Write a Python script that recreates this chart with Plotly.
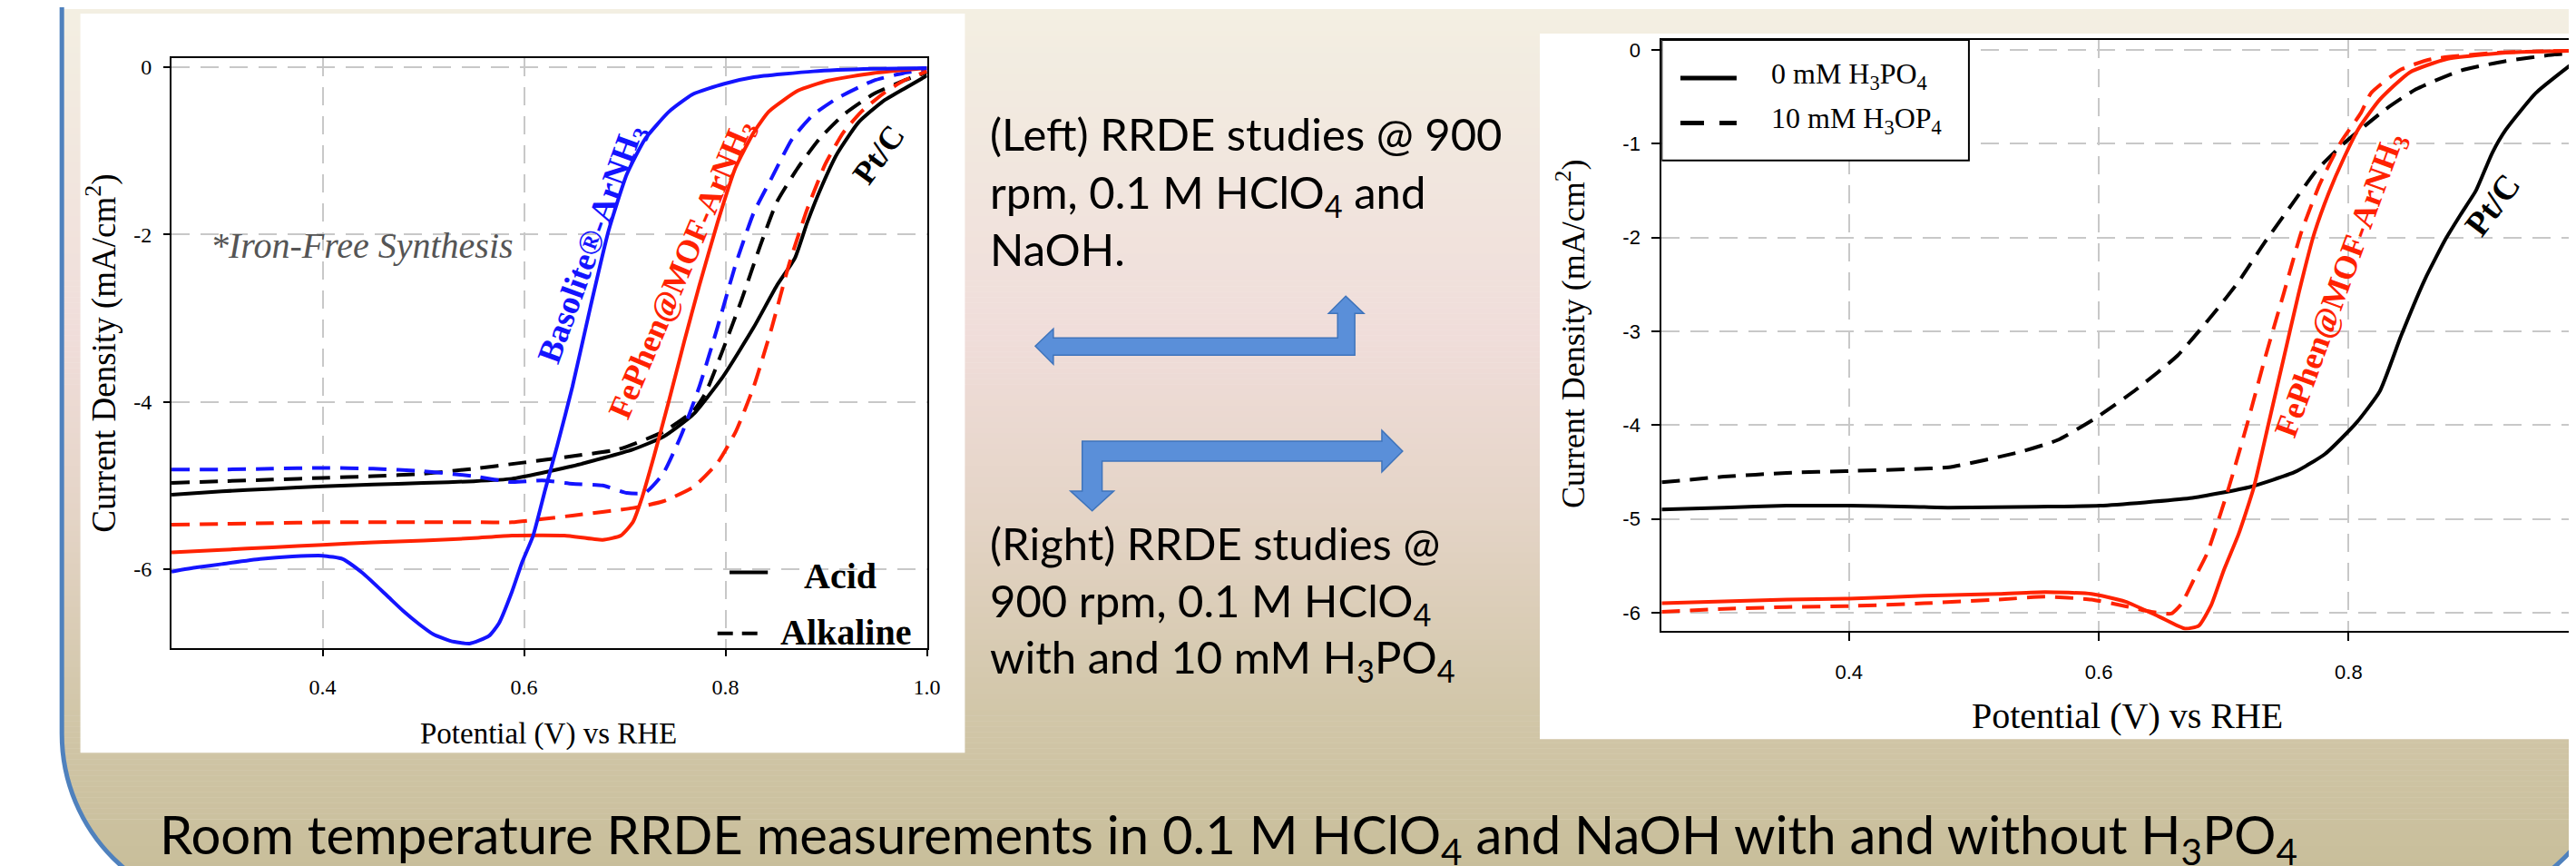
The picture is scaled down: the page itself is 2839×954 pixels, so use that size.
import plotly.graph_objects as go

W, H = 2839, 954

# ---------------- data: left panel (acid vs alkaline) ----------------
L_blue_acid_x = [0.25, 0.275, 0.30, 0.338, 0.37, 0.40, 0.42, 0.44, 0.465, 0.48, 0.496, 0.51, 0.527, 0.546,
                 0.565, 0.575, 0.588, 0.598, 0.609, 0.621, 0.633, 0.648, 0.666, 0.684, 0.702, 0.720, 0.744,
                 0.768, 0.798, 0.828, 0.887, 0.947, 1.0]
L_blue_acid_y = [-6.03, -5.98, -5.94, -5.88, -5.85, -5.84, -5.88, -6.05, -6.33, -6.50, -6.66, -6.78, -6.86, -6.89,
                 -6.80, -6.65, -6.27, -5.92, -5.60, -5.05, -4.52, -3.82, -2.86, -1.95, -1.28, -0.86, -0.53,
                 -0.32, -0.20, -0.12, -0.05, -0.02, -0.01]

L_blue_alk_x = [0.25, 0.30, 0.35, 0.40, 0.45, 0.50, 0.55, 0.588, 0.618, 0.648, 0.678, 0.702, 0.720, 0.738, 0.756,
                0.774, 0.792, 0.810, 0.828, 0.846, 0.866, 0.887, 0.911, 0.947, 0.977, 1.0]
L_blue_alk_y = [-4.81, -4.81, -4.80, -4.79, -4.80, -4.83, -4.89, -4.96, -4.94, -4.98, -5.00, -5.09, -5.09, -4.86,
                -4.40, -3.82, -3.11, -2.36, -1.74, -1.32, -0.86, -0.57, -0.37, -0.16, -0.07, -0.03]

L_red_acid_x = [0.25, 0.30, 0.35, 0.40, 0.45, 0.50, 0.55, 0.588, 0.64, 0.678, 0.696, 0.708, 0.717, 0.729, 0.744,
                0.759, 0.774, 0.792, 0.810, 0.828, 0.843, 0.872, 0.902, 0.947, 1.0]
L_red_acid_y = [-5.80, -5.77, -5.74, -5.71, -5.68, -5.66, -5.63, -5.60, -5.60, -5.65, -5.60, -5.44, -5.15, -4.65,
                -3.98, -3.28, -2.61, -1.86, -1.20, -0.78, -0.53, -0.28, -0.16, -0.07, -0.01]

L_red_alk_x = [0.25, 0.30, 0.35, 0.40, 0.45, 0.50, 0.55, 0.588, 0.648, 0.708, 0.738, 0.768, 0.792, 0.810, 0.828,
               0.846, 0.863, 0.881, 0.899, 0.917, 0.935, 0.956, 0.977, 1.0]
L_red_alk_y = [-5.47, -5.46, -5.45, -5.44, -5.44, -5.44, -5.44, -5.44, -5.36, -5.27, -5.19, -5.02, -4.73, -4.36,
               -3.82, -3.11, -2.36, -1.70, -1.16, -0.78, -0.53, -0.32, -0.16, -0.05]

L_blk_acid_x = [0.25, 0.30, 0.35, 0.40, 0.45, 0.50, 0.55, 0.588, 0.648, 0.708, 0.738, 0.768, 0.798, 0.828, 0.851,
                0.869, 0.881, 0.896, 0.911, 0.932, 0.956, 0.977, 1.0]
L_blk_acid_y = [-5.11, -5.07, -5.04, -5.01, -4.99, -4.97, -4.95, -4.92, -4.77, -4.57, -4.42, -4.15, -3.69, -3.11,
                -2.61, -2.28, -1.86, -1.41, -1.03, -0.66, -0.41, -0.26, -0.10]

L_blk_alk_x = [0.25, 0.30, 0.35, 0.40, 0.45, 0.50, 0.55, 0.597, 0.648, 0.693, 0.738, 0.768, 0.780, 0.798, 0.816,
               0.834, 0.851, 0.872, 0.893, 0.917, 0.947, 0.977, 1.0]
L_blk_alk_y = [-4.97, -4.95, -4.93, -4.91, -4.89, -4.86, -4.80, -4.73, -4.65, -4.57, -4.36, -4.11, -3.90, -3.36,
               -2.78, -2.15, -1.61, -1.20, -0.86, -0.57, -0.32, -0.16, -0.06]

# ---------------- data: right panel (0 vs 10 mM H3PO4) ----------------
R_blk_0_x = [0.25, 0.30, 0.35, 0.40, 0.45, 0.48, 0.55, 0.601, 0.673, 0.721, 0.757, 0.781, 0.806, 0.825, 0.842,
             0.861, 0.878, 0.890, 0.902, 0.915, 0.926, 0.950, 0.977]
R_blk_0_y = [-4.90, -4.88, -4.86, -4.86, -4.87, -4.88, -4.87, -4.86, -4.78, -4.66, -4.50, -4.31, -3.98, -3.64, -3.05,
             -2.45, -2.01, -1.75, -1.50, -1.10, -0.85, -0.46, -0.17]

R_blk_10_x = [0.25, 0.30, 0.35, 0.40, 0.45, 0.48, 0.536, 0.567, 0.597, 0.630, 0.663, 0.692, 0.712, 0.733, 0.755,
              0.774, 0.796, 0.830, 0.854, 0.890, 0.926, 0.965, 0.977]
R_blk_10_y = [-4.61, -4.55, -4.51, -4.49, -4.47, -4.45, -4.29, -4.16, -3.93, -3.62, -3.26, -2.81, -2.47, -2.05, -1.64,
              -1.29, -1.00, -0.63, -0.42, -0.22, -0.12, -0.05, -0.04]

R_red_0_x = [0.25, 0.30, 0.35, 0.40, 0.46, 0.52, 0.557, 0.594, 0.621, 0.648, 0.669, 0.680, 0.690, 0.700, 0.712,
             0.724, 0.736, 0.748, 0.760, 0.772, 0.784, 0.796, 0.808, 0.825, 0.849, 0.878, 0.926, 0.977]
R_red_0_y = [-5.90, -5.88, -5.86, -5.85, -5.82, -5.80, -5.78, -5.80, -5.88, -6.04, -6.17, -6.14, -5.92, -5.55, -5.16,
             -4.67, -3.98, -3.29, -2.60, -1.98, -1.53, -1.16, -0.84, -0.53, -0.24, -0.10, -0.03, -0.01]

R_red_10_x = [0.25, 0.30, 0.35, 0.40, 0.46, 0.52, 0.557, 0.594, 0.621, 0.642, 0.658, 0.666, 0.676, 0.687, 0.704,
              0.719, 0.733, 0.748, 0.762, 0.777, 0.794, 0.810, 0.818, 0.842, 0.866, 0.92, 0.977]
R_red_10_y = [-5.99, -5.96, -5.94, -5.93, -5.90, -5.86, -5.83, -5.86, -5.93, -5.99, -6.01, -5.91, -5.65, -5.36, -4.67,
              -3.98, -3.29, -2.60, -1.95, -1.43, -0.98, -0.67, -0.46, -0.21, -0.10, -0.03, -0.01]

# tick labels
L_xticks = [0.4, 0.6, 0.8, 1.0]
L_xticklabels = ["0.4", "0.6", "0.8", "1.0"]
L_yticks = [0, -2, -4, -6]
L_yticklabels = ["0", "-2", "-4", "-6"]
R_xticks = [0.4, 0.6, 0.8]
R_xticklabels = ["0.4", "0.6", "0.8"]
R_yticks = [0, -1, -2, -3, -4, -5, -6]
R_yticklabels = ["0", "-1", "-2", "-3", "-4", "-5", "-6"]

# ---------------- styling ----------------
BLUE = "#1414ff"
RED = "#ff2200"
BLACK = "#000000"
SERIF = "Liberation Serif, Times New Roman, serif"
SANS = "Lato, Open Sans, sans-serif"
ARIAL = "Liberation Sans, Arial, sans-serif"
LW = 4
DASH = "20px,11px"


def px(x):
    return x / W


def py(y):
    return 1 - y / H


fig = go.Figure()


def add_line(xs, ys, color, dashed, xa, ya):
    fig.add_trace(go.Scatter(
        x=xs, y=ys, mode="lines", xaxis=xa, yaxis=ya, showlegend=False, hoverinfo="skip",
        line=dict(color=color, width=LW, dash=DASH if dashed else "solid", shape="spline", smoothing=0.5)))


# left panel
add_line(L_blk_alk_x, L_blk_alk_y, BLACK, True, "x", "y")
add_line(L_blk_acid_x, L_blk_acid_y, BLACK, False, "x", "y")
add_line(L_blue_alk_x, L_blue_alk_y, BLUE, True, "x", "y")
add_line(L_red_alk_x, L_red_alk_y, RED, True, "x", "y")
add_line(L_red_acid_x, L_red_acid_y, RED, False, "x", "y")
add_line(L_blue_acid_x, L_blue_acid_y, BLUE, False, "x", "y")
# right panel
add_line(R_blk_10_x, R_blk_10_y, BLACK, True, "x2", "y2")
add_line(R_blk_0_x, R_blk_0_y, BLACK, False, "x2", "y2")
add_line(R_red_10_x, R_red_10_y, RED, True, "x2", "y2")
add_line(R_red_0_x, R_red_0_y, RED, False, "x2", "y2")

# ---------------- background shapes ----------------
shapes = []
stops = [(0, (243, 239, 226)), (180, (241, 230, 222)), (360, (240, 221, 218)),
         (560, (228, 212, 198)), (780, (209, 198, 168)), (954, (200, 190, 154))]


def grad(y):
    for (y0, c0), (y1, c1) in zip(stops[:-1], stops[1:]):
        if y0 <= y <= y1:
            t = (y - y0) / (y1 - y0)
            return "rgb(%d,%d,%d)" % tuple(round(a + (b - a) * t) for a, b in zip(c0, c1))
    return "rgb(%d,%d,%d)" % stops[-1][1]


step = 6
for yb in range(0, H, step):
    shapes.append(dict(type="rect", xref="paper", yref="paper", layer="below",
                       x0=px(60), x1=1.0, y0=py(yb + step + 0.5), y1=py(yb),
                       fillcolor=grad(yb + step / 2), line=dict(width=0)))


def path(points, close=True):
    s = "M %f,%f " % (px(points[0][0]), py(points[0][1]))
    for p in points[1:]:
        s += "L %f,%f " % (px(p[0]), py(p[1]))
    return s + ("Z" if close else "")


K = 0.5523 * 194.5
# corner cut-outs (white outside rounded frame)
shapes.append(dict(type="path", xref="paper", yref="paper", layer="below", fillcolor="white", line=dict(width=0),
                   path="M %f,%f L %f,%f C %f,%f %f,%f %f,%f L %f,%f Z" % (
                       px(0), py(800), px(60.5), py(800), px(60.5), py(800 + K), px(255 - K), py(994.5),
                       px(255), py(994.5), px(0), py(994.5))))
shapes.append(dict(type="path", xref="paper", yref="paper", layer="below", fillcolor="white", line=dict(width=0),
                   path="M %f,%f C %f,%f %f,%f %f,%f L %f,%f Z" % (
                       px(2889.5), py(800), px(2889.5), py(800 + K), px(2695 + K), py(994.5),
                       px(2695), py(994.5), px(2889.5), py(994.5))))
# blue frame
shapes.append(dict(type="path", xref="paper", yref="paper", layer="below", line=dict(color="#4f81bd", width=5),
                   path="M %f,%f L %f,%f C %f,%f %f,%f %f,%f" % (
                       px(60.5), py(-5), px(60.5), py(800), px(60.5), py(800 + K), px(255 - K), py(994.5),
                       px(255), py(994.5))))
shapes.append(dict(type="path", xref="paper", yref="paper", layer="below", line=dict(color="#4f81bd", width=5),
                   path="M %f,%f C %f,%f %f,%f %f,%f" % (
                       px(2889.5), py(800), px(2889.5), py(800 + K), px(2695 + K), py(994.5),
                       px(2695), py(994.5))))

# white chart panels
shapes.append(dict(type="rect", xref="paper", yref="paper", layer="below", x0=px(81), x1=px(1061),
                   y0=py(821), y1=py(5), fillcolor="white", line=dict(width=0)))
shapes.append(dict(type="rect", xref="paper", yref="paper", layer="below", x0=px(1698), x1=1.0,
                   y0=py(806), y1=py(27), fillcolor="white", line=dict(width=0)))

# arrows
ARROW_FILL = "#5a8fd9"
ARROW_LINE = "#3f74bb"
arrow1 = [(1139, 372), (1159, 353), (1159, 363), (1474, 363), (1474, 336), (1464, 336), (1483, 317),
          (1503, 336), (1493, 336), (1493, 382), (1159, 382), (1159, 392)]
arrow2 = [(1546, 488), (1523, 465), (1523, 477), (1191, 477), (1191, 532), (1178, 532), (1202, 554),
          (1226, 532), (1213, 532), (1213, 499), (1523, 499), (1523, 511)]
for a in (arrow1, arrow2):
    shapes.append(dict(type="path", xref="paper", yref="paper", layer="above", path=path(a),
                       fillcolor=ARROW_FILL, line=dict(color=ARROW_LINE, width=1.5)))

# right legend box and samples
shapes.append(dict(type="rect", xref="x2", yref="y2", layer="above", x0=0.25, x1=0.496, y0=-1.18, y1=0.106,
                   fillcolor="white", line=dict(color="black", width=2)))
shapes.append(dict(type="line", xref="x2", yref="y2", layer="above", x0=0.265, x1=0.310, y0=-0.30, y1=-0.30,
                   line=dict(color="black", width=5)))
shapes.append(dict(type="line", xref="x2", yref="y2", layer="above", x0=0.265, x1=0.310, y0=-0.78, y1=-0.78,
                   line=dict(color="black", width=5, dash="26px,17px")))
# left legend samples
shapes.append(dict(type="line", xref="x", yref="y", layer="above", x0=0.804, x1=0.842, y0=-6.04, y1=-6.04,
                   line=dict(color="black", width=4)))
shapes.append(dict(type="line", xref="x", yref="y", layer="above", x0=0.792, x1=0.834, y0=-6.77, y1=-6.77,
                   line=dict(color="black", width=4, dash="17px,10px")))

# ---------------- annotations ----------------
ann = []


def note(text, x, y, size, family, color="black", xanchor="center", yanchor="middle", angle=0, xref="paper",
         yref="paper"):
    ann.append(dict(text=text, x=x, y=y, xref=xref, yref=yref, xanchor=xanchor, yanchor=yanchor, showarrow=False,
                    textangle=angle, font=dict(size=size, family=family, color=color)))


# left chart texts
note("Current Density (mA/cm<sup>2</sup>)", px(105), py(380), 37, SERIF, angle=-90)
note("Potential (V) vs RHE", px(600), py(800), 33, SERIF)
note("<i>*Iron-Free Synthesis</i>", 0.287, -2.13, 40, SERIF, color="#555555", xanchor="left", xref="x", yref="y")
note("<b>Basolite®-ArNH<sub>3</sub></b>", 0.668, -2.12, 37, SERIF, color=BLUE, angle=-70, xref="x", yref="y")
note("<b>FePhen@MOF-ArNH<sub>3</sub></b>", 0.757, -2.42, 36, SERIF, color=RED, angle=-67, xref="x", yref="y")
note("<b>Pt/C</b>", 0.952, -1.04, 36, SERIF, color=BLACK, angle=-54, xref="x", yref="y")
note("<b>Acid</b>", 0.876, -6.08, 40, SERIF, xanchor="left", xref="x", yref="y")
note("<b>Alkaline</b>", 0.853, -6.76, 40, SERIF, xanchor="left", xref="x", yref="y")

# right chart texts
note("Current Density (mA/cm<sup>2</sup>)", px(1732), py(358), 36, SERIF, angle=-90)
note("Potential (V) vs RHE", px(2349), py(780), 40, SERIF)
note("<b>FePhen@MOF-ArNH<sub>3</sub></b>", 0.794, -2.51, 36, SERIF, color=RED, angle=-70, xref="x2", yref="y2")
note("<b>Pt/C</b>", 0.9155, -1.65, 38, SERIF, color=BLACK, angle=-53, xref="x2", yref="y2")
note("0 mM H<sub>3</sub>PO<sub>4</sub>", 0.336, -0.28, 32, SERIF, xanchor="left", xref="x2", yref="y2")
note("10 mM H<sub>3</sub>OP<sub>4</sub>", 0.336, -0.75, 32, SERIF, xanchor="left", xref="x2", yref="y2")

# middle description text
MID = 49
ascent = 0.987 * MID
mid_lines = [("(Left) RRDE studies @ 900", 155), ("rpm, 0.1 M HClO<sub>4</sub> and", 219), ("NaOH.", 282),
             ("(Right) RRDE studies @", 607), ("900 rpm, 0.1 M HClO<sub>4</sub>", 670),
             ("with and 10 mM H<sub>3</sub>PO<sub>4</sub>", 732)]
for txt, base in mid_lines:
    note(txt, px(1087), py(base - ascent), MID, SANS, xanchor="left", yanchor="top")

CAP = 58
note("Room temperature RRDE measurements in 0.1 M HClO<sub>4</sub> and NaOH with and without "
     "H<sub>3</sub>PO<sub>4</sub>", px(167), py(931 - 0.987 * CAP), CAP, SANS, xanchor="left", yanchor="top")

# ---------------- axes ----------------
GRID = dict(showgrid=True, gridcolor="#c8c8c8", gridwidth=1.5, griddash="20px,12px", zeroline=False,
            showline=True, linecolor="black", linewidth=2, ticks="outside", tickcolor="black", tickwidth=1.5)

fig.update_layout(
    width=W, height=H, autosize=False, margin=dict(l=0, r=0, t=0, b=0),
    paper_bgcolor="white", plot_bgcolor="rgba(0,0,0,0)", showlegend=False,
    xaxis=dict(domain=[px(182), px(1019)], range=[0.25, 1.0], tickvals=L_xticks, ticktext=L_xticklabels,
               mirror=True, ticklen=7, ticklabelstandoff=14, tickfont=dict(family=SERIF, size=24, color="black"),
               anchor="y", **GRID),
    yaxis=dict(domain=[py(705), py(54)], range=[-6.94, 0.11], tickvals=L_yticks, ticktext=L_yticklabels,
               mirror=True, ticklen=7, ticklabelstandoff=8, tickfont=dict(family=SERIF, size=24, color="black"),
               anchor="x", **GRID),
    xaxis2=dict(domain=[px(1833), 1.0], range=[0.25, 0.977], tickvals=R_xticks, ticktext=R_xticklabels,
                mirror=True, ticklen=9, ticklabelstandoff=16, tickfont=dict(family=ARIAL, size=22, color="black"),
                anchor="y2", **GRID),
    yaxis2=dict(domain=[py(686), py(34)], range=[-6.19, 0.106], tickvals=R_yticks, ticktext=R_yticklabels,
                mirror=False, ticklen=9, ticklabelstandoff=8, tickfont=dict(family=ARIAL, size=22, color="black"),
                anchor="x2", **GRID),
    shapes=shapes,
    annotations=ann,
)

fig.write_html("out.html")
